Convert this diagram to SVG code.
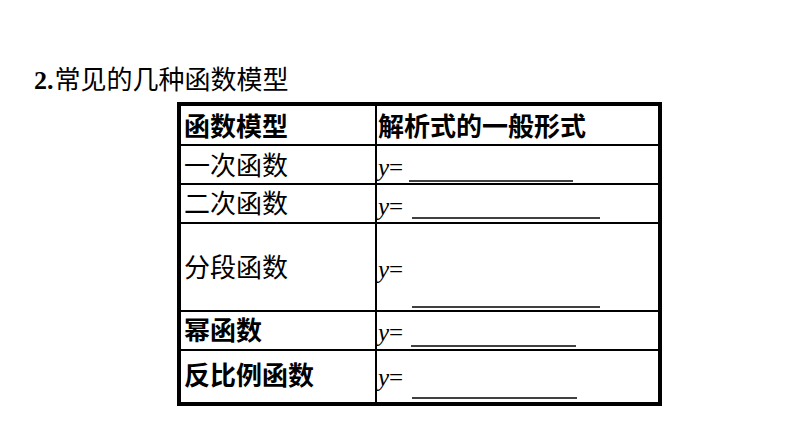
<svg xmlns="http://www.w3.org/2000/svg" width="794" height="446" viewBox="0 0 794 446">
<style>
.c{font-family:"Liberation Sans","Noto Sans CJK SC",sans-serif;font-size:26px;fill:#000}
.b{font-weight:bold}
.y{font-family:"Liberation Serif",serif;font-style:italic;font-size:25px}
.e{font-family:"Liberation Serif",serif;font-size:25px}
.g{stroke:#000;stroke-width:2;fill:none}
.u{stroke:#000;stroke-width:1.5}
</style>
<rect width="794" height="446" fill="#fff"/>
<text x="34" y="89"><tspan class="e b" style="font-size:26px">2.</tspan><tspan class="c" dx="1">常见的几种函数模型</tspan></text>
<g id="table">
<rect x="179" y="104" width="481" height="300" fill="none" stroke="#000" stroke-width="4"/>
<path class="g" d="M376 104V404M179 145H660M179 184H660M179 223H660M179 311H660M179 350H660"/>
</g>
<g id="header"><text class="c b" x="184" y="136">函数模型</text><text class="c b" x="378" y="136">解析式的一般形式</text></g>
<g id="r1"><text class="c" x="184" y="175">一次函数</text><text x="378" y="176"><tspan class="y">y</tspan><tspan class="e">=</tspan></text><line class="u" x1="409" y1="181" x2="573" y2="181"/></g>
<g id="r2"><text class="c" x="184" y="213">二次函数</text><text x="378" y="215"><tspan class="y">y</tspan><tspan class="e">=</tspan></text><line class="u" x1="412" y1="218" x2="600" y2="218"/></g>
<g id="r3"><text class="c" x="184" y="277">分段函数</text><text x="378" y="278"><tspan class="y">y</tspan><tspan class="e">=</tspan></text><line class="u" x1="412" y1="307" x2="600" y2="307"/></g>
<g id="r4"><text class="c b" x="184" y="340">幂函数</text><text x="378" y="341"><tspan class="y">y</tspan><tspan class="e">=</tspan></text><line class="u" x1="411" y1="346" x2="576" y2="346"/></g>
<g id="r5"><text class="c b" x="184" y="385">反比例函数</text><text x="378" y="386"><tspan class="y">y</tspan><tspan class="e">=</tspan></text><line class="u" x1="412" y1="398" x2="577" y2="398"/></g>
</svg>
